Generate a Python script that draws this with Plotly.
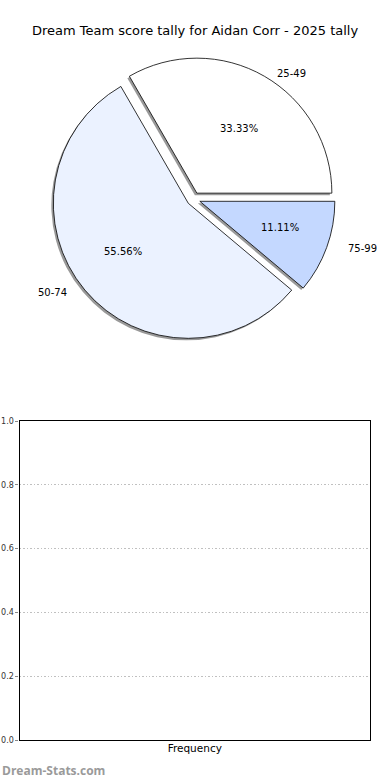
import math
import plotly.graph_objects as go

labels = ["25-49", "50-74", "75-99"]
values = [3, 5, 1]
colors = ["#FFFFFF", "#EBF2FF", "#C4D8FF"]
pulls = [0.05, 0.05, 0.05]
title = "Dream Team score tally for Aidan Corr - 2025 tally"
yticks = [0.0, 0.2, 0.4, 0.6, 0.8, 1.0]

W, H = 390, 780
FONT = "DejaVu Sans"

def px_x(x):
    return x / W

def px_y(y):
    return (H - y) / H

total = sum(values)
# first slice starts at 3 o'clock going counterclockwise (matplotlib default)
rotation = 90 - 360 * values[0] / total

cx, cy, side = 193.5, 199, 283.5
dom_x = [px_x(cx - side / 2), px_x(cx + side / 2)]
dom_y = [px_y(cy + side / 2), px_y(cy - side / 2)]
sx, sy = 2 / W, 2 / H

fig = go.Figure()
# shadow pie
fig.add_trace(go.Pie(
    labels=labels, values=values, sort=False, direction="counterclockwise",
    rotation=rotation, pull=pulls,
    marker=dict(colors=["rgba(0,0,0,0.4)"] * 3, line=dict(width=0)),
    textinfo="none",
    domain=dict(x=[dom_x[0] - sx, dom_x[1] - sx], y=[dom_y[0] - sy, dom_y[1] - sy]),
    showlegend=False, hoverinfo="skip",
))
fig.add_trace(go.Pie(
    labels=labels, values=values, sort=False, direction="counterclockwise",
    rotation=rotation, pull=pulls,
    marker=dict(colors=colors, line=dict(color="#000", width=0.8)),
    textinfo="none",
    domain=dict(x=dom_x, y=dom_y),
    showlegend=False,
))

# labels and percentages placed like matplotlib (labeldistance 1.1, pctdistance 0.6)
rx, ry = 141, 126
annotations = []
start = 0.0
for lab, v, p in zip(labels, values, pulls):
    frac = v / total
    mid = math.radians(360 * (start + frac / 2))
    start += frac
    c, s = math.cos(mid), math.sin(mid)
    lx = cx + (1.1 + p) * rx * c
    ly = cy - (1.1 + p) * ry * s
    annotations.append(dict(text=lab, x=px_x(lx), y=px_y(ly), xref="paper", yref="paper",
                            xanchor="left" if c > 0 else "right", yanchor="middle",
                            showarrow=False, font=dict(family=FONT, size=10, color="#000")))
    tx = cx + (0.6 + p) * rx * c
    ty = cy - (0.6 + p) * ry * s
    annotations.append(dict(text=f"{frac * 100:.2f}%", x=px_x(tx), y=px_y(ty), xref="paper",
                            yref="paper", xanchor="center", yanchor="middle", showarrow=False,
                            font=dict(family=FONT, size=10, color="#000")))

annotations.append(dict(text="<b>Dream-Stats.com</b>", x=0, y=px_y(770), xref="paper", yref="paper",
                        xanchor="left", yanchor="middle", showarrow=False,
                        font=dict(family="Open Sans", size=12, color="#9a9a9a")))

# empty frequency axes
fig.add_trace(go.Scatter(x=[None], y=[None], xaxis="x", yaxis="y", showlegend=False))

fig.update_layout(
    width=W, height=H,
    margin=dict(l=0, r=0, t=0, b=0),
    paper_bgcolor="white", plot_bgcolor="white",
    font=dict(family=FONT, color="#000"),
    title=dict(text=title, x=0.5, xanchor="center", y=px_y(30), yanchor="middle",
               font=dict(family=FONT, size=13, color="#000")),
    xaxis=dict(domain=[px_x(19.5), px_x(370)], range=[0, 1], showticklabels=False,
               ticks="", showgrid=False, zeroline=False, showline=True, mirror=True,
               linecolor="#000", linewidth=1.2, automargin=False,
               title=dict(text="Frequency", font=dict(family=FONT, size=10.5, color="#000"), standoff=4)),
    yaxis=dict(domain=[px_y(740), px_y(421)], range=[0, 1], tickvals=yticks,
               ticktext=[f"{v:.1f}" for v in yticks],
               tickfont=dict(family=FONT, size=8, color="#333"),
               ticks="outside", ticklen=3, tickcolor="#888",
               showgrid=True, gridcolor="#C0C0C0", griddash="1.5px,2px", gridwidth=1.2,
               zeroline=False, showline=True, mirror=True, linecolor="#000",
               linewidth=1.2, automargin=False),
    annotations=annotations,
)

fig.write_html("out.html")
